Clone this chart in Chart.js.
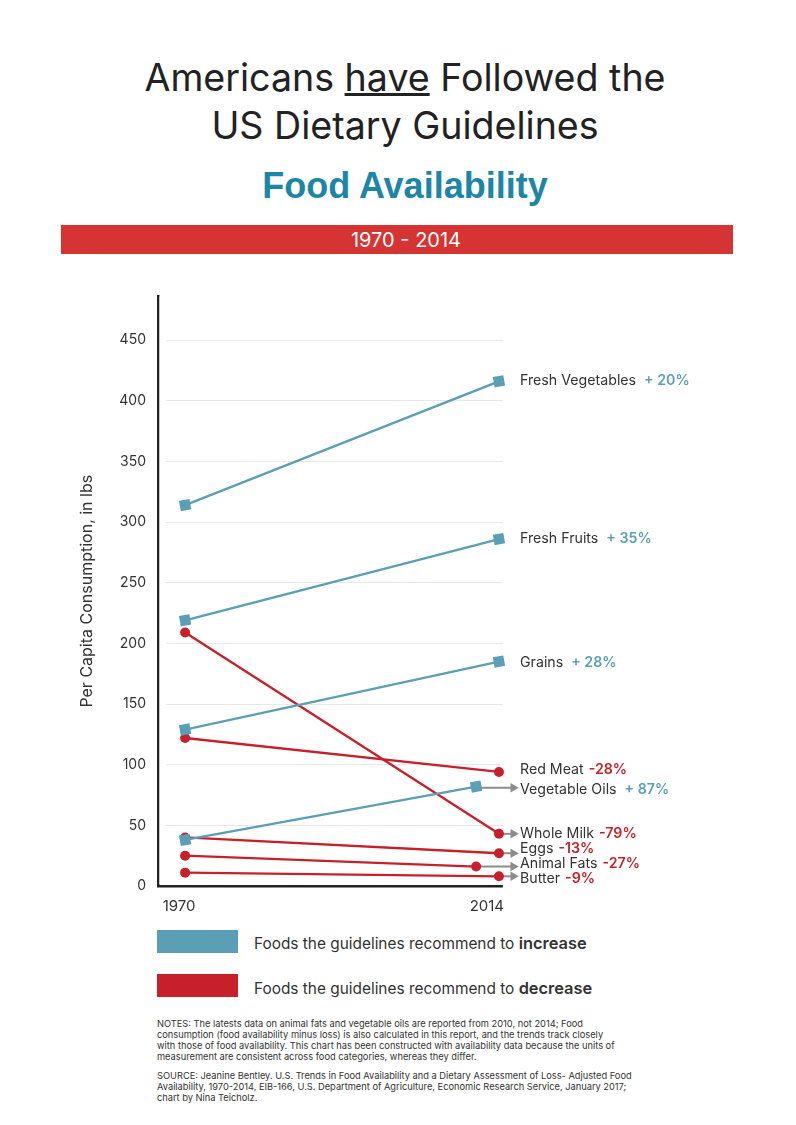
<!DOCTYPE html>
<html><head><meta charset="utf-8">
<script src="https://cdn.jsdelivr.net/npm/chart.js@4"></script>
<style>
html,body{margin:0;padding:0;background:#fff;}
body{width:796px;height:1125px;position:relative;overflow:hidden;font-family:"Inter","Liberation Sans",Arial,sans-serif;color:#2b2b2b;}
.t{position:absolute;white-space:nowrap;}
.c{left:0;width:810px;text-align:center;}
#wrap{position:absolute;left:77px;top:276px;width:453px;height:645px;}
.lab{position:absolute;left:520px;font-size:14.2px;line-height:16px;white-space:nowrap;color:#333;}
.lab b{font-weight:600;}
.swatch{position:absolute;left:157px;width:81px;height:23px;}
.note{position:absolute;left:157px;font-size:9.28px;line-height:11.1px;white-space:nowrap;color:#333;}
</style></head><body>
<div class="t c" style="top:56px;font-size:37.6px;line-height:44px;color:#222;">Americans <u>have</u> Followed the</div>
<div class="t c" style="top:104px;font-size:37.6px;line-height:44px;color:#222;">US Dietary Guidelines</div>
<div class="t c" style="top:164px;font-size:36px;line-height:44px;font-weight:bold;color:#1d86a6;font-family:'Liberation Sans';">Food Availability</div>
<div style="position:absolute;left:61px;top:225px;width:672px;height:29px;background:#d63333;color:#fff;font-size:20px;line-height:30px;text-align:center;padding-left:18px;box-sizing:border-box;">1970 - 2014</div>
<div id="wrap"><canvas id="c"></canvas></div>
<div id="labels"></div>
<div class="swatch" style="top:930px;background:#5a9fb5;"></div>
<div class="t" style="left:254px;top:934px;font-size:15.4px;line-height:18px;color:#333;">Foods the guidelines recommend to <b style="font-weight:600;font-size:16.4px">increase</b></div>
<div class="swatch" style="top:974px;background:#c8202a;"></div>
<div class="t" style="left:254px;top:979px;font-size:15.4px;line-height:18px;color:#333;">Foods the guidelines recommend to <b style="font-weight:600;font-size:16.4px">decrease</b></div>
<div class="note" style="top:1018px;">NOTES: The latests data on animal fats and vegetable oils are reported from 2010, not 2014; Food<br>consumption (food availability minus loss) is also calculated in this report, and the trends track closely<br>with those of food availability. This chart has been constructed with availability data because the units of<br>measurement are consistent across food categories, whereas they differ.</div>
<div class="note" style="top:1070px;">SOURCE: Jeanine Bentley. U.S. Trends in Food Availability and a Dietary Assessment of Loss- Adjusted Food<br>Availability, 1970-2014, EIB-166, U.S. Department of Agriculture, Economic Research Service, January 2017;<br>chart by Nina Teicholz.</div>
<script>
const startYear = 1970;
const endYear = 2014;
const lateYear = 2010.8;
const arrowYear = 2016;
const xTickLabels = ['1970', '2014'];
const xTickPlaces = [1969.16, 2012.3];
const yTickLabels = [0, 50, 100, 150, 200, 250, 300, 350, 400, 450];

const freshVegetables = [314, 416];
const freshFruits = [219, 286];
const grains = [129, 185];
const vegetableOils = [38, 82];
const redMeat = [122, 94];
const wholeMilk = [209, 43];
const eggs = [40, 27];
const animalFats = [25, 16];
const butter = [11, 8];

const BLUE = '#5a9fb5', RED = '#c8202a', GRAY = '#8c8c8c';
const FONT = '"Inter","Liberation Sans"';

function series(name, vals, color, style, lastYear) {
  return {
    label: name,
    data: [{x: startYear, y: vals[0]}, {x: lastYear || endYear, y: vals[1]}],
    borderColor: color, backgroundColor: color, borderWidth: 2.3,
    pointStyle: style, pointRadius: style === 'rect' ? 7.5 : 5, pointBorderWidth: 0,
    pointRotation: style === 'rect' ? -10 : 0,
    clip: false, tension: 0
  };
}
function arrow(name, fromYear, v) {
  return {
    label: name + ' arrow',
    data: [{x: fromYear, y: v}, {x: arrowYear, y: v}],
    borderColor: GRAY, backgroundColor: GRAY, borderWidth: 2,
    pointStyle: 'triangle', pointRotation: 90, pointRadius: [0, 5.5], pointBorderWidth: 0,
    clip: false, tension: 0
  };
}

const datasets = [
  series('Vegetable Oils', vegetableOils, BLUE, 'rect', lateYear),
  series('Grains', grains, BLUE, 'rect'),
  series('Fresh Fruits', freshFruits, BLUE, 'rect'),
  series('Fresh Vegetables', freshVegetables, BLUE, 'rect'),
  series('Red Meat', redMeat, RED, 'circle'),
  series('Whole Milk', wholeMilk, RED, 'circle'),
  series('Eggs', eggs, RED, 'circle'),
  series('Animal Fats', animalFats, RED, 'circle', lateYear),
  series('Butter', butter, RED, 'circle'),
  arrow('Vegetable Oils', lateYear, vegetableOils[1] - 1),
  arrow('Whole Milk', endYear, wholeMilk[1]),
  arrow('Eggs', endYear, eggs[1]),
  arrow('Animal Fats', lateYear, animalFats[1]),
  arrow('Butter', endYear, butter[1])
];

const gridTrim = {
  id: 'gridTrim',
  beforeDatasetsDraw(chart) {
    const a = chart.chartArea, c = chart.ctx, xs = chart.scales.x;
    const trimLeft = 8, plotRight = xs.getPixelForValue(2014.55);
    c.save(); c.fillStyle = '#fff';
    c.fillRect(a.left + 1.5, a.top, trimLeft - 1.5, a.bottom - a.top - 2);
    c.fillRect(plotRight, a.top, a.right - plotRight + 2, a.bottom - a.top + 3);
    c.restore();
  }
};

new Chart(document.getElementById('c'), {
  type: 'line',
  data: {datasets},
  plugins: [gridTrim],
  options: {
    responsive: true, maintainAspectRatio: false, animation: false,
    layout: {padding: {top: 10, right: 10, left: 0, bottom: 0}},
    plugins: {legend: {display: false}, tooltip: {enabled: false}},
    scales: {
      x: {
        type: 'linear', min: 1966.2, max: 2016.95,
        afterBuildTicks(s) { s.ticks = xTickPlaces.map(v => ({value: v})); },
        afterTickToLabelConversion(s) { s.ticks.forEach((t, i) => { t.label = xTickLabels[i]; }); },
        afterFit(s) { s.height = 35; },
        grid: {display: false, drawTicks: false},
        border: {display: true, color: '#222', width: 2.5},
        ticks: {color: '#333', font: {family: FONT, size: 15}, padding: 11, maxRotation: 0}
      },
      y: {
        type: 'linear', min: 0, max: 486,
        afterBuildTicks(s) { s.ticks = yTickLabels.map(v => ({value: v})); },
        afterFit(s) { s.width = 81; },
        grid: {color: '#e8e8e8', lineWidth: 1, drawTicks: false},
        border: {display: true, color: '#222', width: 2.5},
        ticks: {color: '#333', font: {family: FONT, size: 14}, padding: 12,
                callback: v => String(v)},
        title: {display: true, text: 'Per Capita Consumption, in lbs', color: '#333',
                font: {family: FONT, size: 16}, padding: {top: 1, bottom: 0}}
      }
    }
  }
});

const labelNames = ['Fresh Vegetables','Fresh Fruits','Grains','Red Meat','Vegetable Oils','Whole Milk','Eggs','Animal Fats','Butter'];
const labelChanges = ['+ 20%','+ 35%','+ 28%','-28%','+ 87%','-79%','-13%','-27%','-9%'];
const labelTops = [372,530,654,761,781,825,840,855,870];
document.getElementById('labels').innerHTML = labelNames.map((n, i) => {
  const up = labelChanges[i][0] === '+';
  const col = up ? '#5a9fb5' : '#c8202a';
  return `<div class="lab" style="top:${labelTops[i]}px">${n} <b style="color:${col};margin-left:${up ? 4 : 1}px">${labelChanges[i]}</b></div>`;
}).join('');
</script>
</body></html>
